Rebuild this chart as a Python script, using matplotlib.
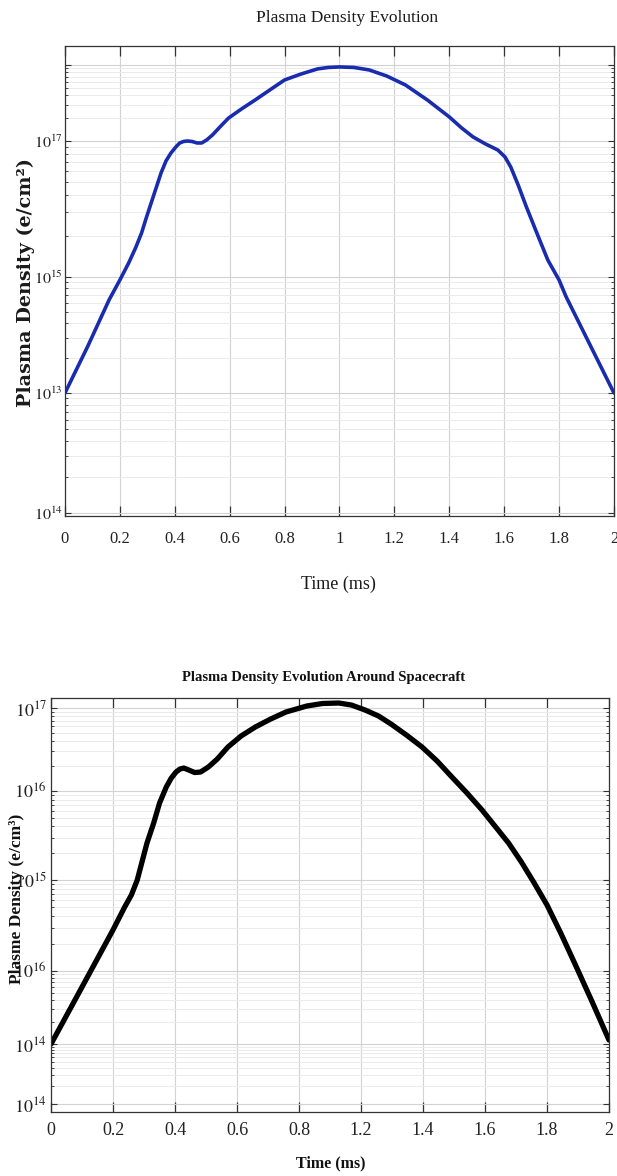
import numpy as np
import matplotlib
matplotlib.use("Agg")
import matplotlib.pyplot as plt
from matplotlib.ticker import FixedLocator, NullFormatter

plt.rcParams['font.family'] = ['Liberation Serif', 'DejaVu Serif']
plt.rcParams['mathtext.fontset'] = 'stix'

# ---------------- data: top panel (level = position on displayed log axis, in decades) ----
top_time = [0.0, 0.082, 0.161, 0.2, 0.232, 0.257, 0.279, 0.296, 0.314, 0.332, 0.35,
            0.368, 0.386, 0.404, 0.418, 0.432, 0.446, 0.463, 0.481, 0.498, 0.516,
            0.537, 0.568, 0.596, 0.643, 0.693, 0.746, 0.8, 0.86, 0.92, 0.96, 1.0,
            1.052, 1.108, 1.172, 1.24, 1.32, 1.4, 1.445, 1.487, 1.532, 1.577, 1.603,
            1.624, 1.651, 1.681, 1.719, 1.759, 1.8, 1.826, 1.913, 2.0]
top_level = [0.968, 1.34, 1.72, 1.879, 2.016, 2.137, 2.258, 2.379, 2.5, 2.621, 2.742,
             2.839, 2.903, 2.952, 2.984, 2.996, 3.0, 2.996, 2.984, 2.984, 3.008,
             3.048, 3.121, 3.185, 3.258, 3.331, 3.411, 3.492, 3.54, 3.581, 3.593, 3.597,
             3.593, 3.573, 3.524, 3.452, 3.331, 3.194, 3.105, 3.032, 2.976, 2.927, 2.871,
             2.79, 2.645, 2.468, 2.258, 2.04, 1.879, 1.742, 1.355, 0.968]
top_ytick_pos = [0.0, 0.968, 1.903, 3.0, 3.615]
top_ytick_labels = [r'$10^{14}$', r'$10^{13}$', r'$10^{15}$', r'$10^{17}$', '']
top_xtick_pos = [0, 0.2, 0.4, 0.6, 0.8, 1.0, 1.2, 1.4, 1.6, 1.8, 2.0]
top_xtick_labels = ['0', '0.2', '0.4', '0.6', '0.8', '1', '1.2', '1.4', '1.6', '1.8', '2']

# ---------------- data: bottom panel ----------------
bot_time = [0.0, 0.111, 0.222, 0.264, 0.288, 0.309, 0.326, 0.344, 0.368, 0.389, 0.413,
            0.431, 0.448, 0.462, 0.476, 0.494, 0.515, 0.536, 0.564, 0.596, 0.634,
            0.681, 0.732, 0.787, 0.842, 0.916, 0.973, 1.031, 1.077, 1.126, 1.174,
            1.219, 1.274, 1.33, 1.384, 1.437, 1.491, 1.545, 1.594, 1.64, 1.686, 1.732,
            1.778, 1.827, 1.88, 1.94, 2.0]
bot_level = [0.706, 1.376, 2.047, 2.318, 2.459, 2.635, 2.847, 3.071, 3.306, 3.541, 3.729,
             3.835, 3.906, 3.941, 3.953, 3.929, 3.9, 3.906, 3.965, 4.059, 4.2,
             4.329, 4.435, 4.529, 4.612, 4.682, 4.712, 4.718, 4.694, 4.635, 4.565,
             4.47, 4.341, 4.2, 4.035, 3.847, 3.659, 3.459, 3.259, 3.071, 2.847, 2.6,
             2.341, 2.012, 1.635, 1.2, 0.753]
bot_ytick_pos = [0.0, 0.706, 1.565, 2.635, 3.682, 4.659]
bot_ytick_labels = [r'$10^{14}$', r'$10^{14}$', r'$10^{16}$', r'$10^{15}$', r'$10^{16}$', r'$10^{17}$']
bot_xtick_pos = list(np.linspace(0, 2, 10))
bot_xtick_labels = ['0', '0.2', '0.4', '0.6', '0.8', '1.2', '1.4', '1.6', '1.8', '2']


def log_minors(majors):
    out = []
    for a, b in zip(majors[:-1], majors[1:]):
        for k in range(2, 10):
            out.append(a + np.log10(k) * (b - a))
    return out


def style_axes(ax, xt, xl, yt, yl, ylim, fs_x, fs_y, xpad, ypad):
    ax.set_xlim(0, 2)
    ax.set_ylim(*ylim)
    ax.xaxis.set_major_locator(FixedLocator(xt))
    ax.set_xticklabels(xl, fontsize=fs_x)
    ax.yaxis.set_major_locator(FixedLocator(yt))
    ax.set_yticklabels(yl, fontsize=fs_y)
    ax.yaxis.set_minor_locator(FixedLocator(log_minors(yt)))
    ax.yaxis.set_minor_formatter(NullFormatter())
    ax.grid(which='major', axis='both', color='#d2d2d2', linewidth=0.8)
    ax.grid(which='minor', axis='y', color='#ebebeb', linewidth=0.7)
    ax.set_axisbelow(True)
    ax.tick_params(which='major', axis='x', direction='in', length=7, width=0.9,
                   top=True, bottom=True, pad=xpad, colors='#333333', labelcolor='#222222')
    ax.tick_params(which='major', axis='y', direction='in', length=4, width=0.8,
                   left=True, right=True, pad=ypad, colors='#333333', labelcolor='#222222')
    ax.tick_params(which='minor', axis='y', direction='in', length=2.5, width=0.7,
                   left=True, right=True, colors='#444444')
    for s in ax.spines.values():
        s.set_color('#333333')
        s.set_linewidth(0.9)


fig = plt.figure(figsize=(6.17, 11.76), dpi=100)

# top panel
ax1 = fig.add_axes([0.1053, 0.5612, 0.8898, 0.3997])
ax1.plot(top_time, top_level, color='#1a2cae', linewidth=2.6,
         solid_joinstyle='round', solid_capstyle='round')
style_axes(ax1, top_xtick_pos, top_xtick_labels, top_ytick_pos, top_ytick_labels,
           (-0.024, 3.766), 12, 11.5, 11, 1.5)
fig.text(0.562, 0.9847, 'Plasma Density Evolution', fontsize=12.5, ha='center', va='center',
         color='#1a1a1a')
fig.text(0.549, 0.5035, 'Time (ms)', fontsize=13, ha='center', va='center', color='#1a1a1a')
fig.text(0.0425, 0.7602, 'Plasma Density (e/cm²)', fontsize=13.8, fontweight='bold',
         family=['DejaVu Serif'], rotation=90, ha='center', va='center', color='#1a1a1a')

# bottom panel
ax2 = fig.add_axes([0.0827, 0.0544, 0.9043, 0.3520])
ax2.plot(bot_time, bot_level, color='black', linewidth=3.8,
         solid_joinstyle='round', solid_capstyle='round')
style_axes(ax2, bot_xtick_pos, bot_xtick_labels, bot_ytick_pos, bot_ytick_labels,
           (-0.094, 4.776), 13, 13, 7, 3)
fig.text(0.525, 0.4235, 'Plasma Density Evolution Around Spacecraft', fontsize=10.5,
         fontweight='bold', ha='center', va='center', color='#111111')
fig.text(0.5365, 0.0111, 'Time (ms)', fontsize=11.5, fontweight='bold', ha='center',
         va='center', color='#111111')
fig.text(0.028, 0.2355, 'Plasme Density (e/cm³)', fontsize=12.5, fontweight='bold',
         rotation=90, ha='center', va='center', color='#111111')

fig.savefig('out.png', dpi=100)
